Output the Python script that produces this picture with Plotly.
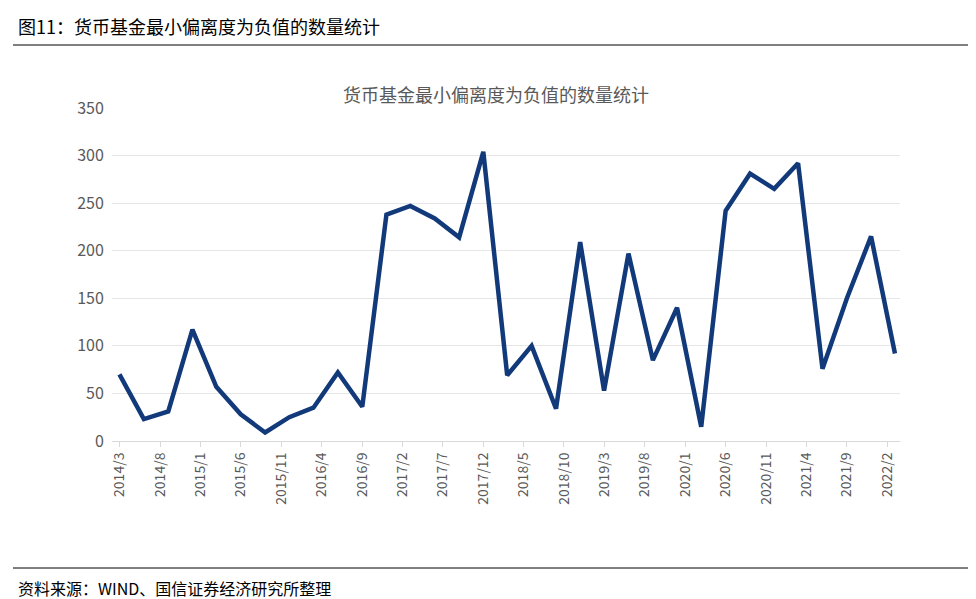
import plotly.graph_objects as go
import pandas as pd

dates = pd.date_range("2014-03-01", "2022-03-01", freq="3MS")
values = [70, 23, 31, 117, 57, 28, 9, 25, 35, 72, 36, 238, 247, 234, 214, 304,
          69, 100, 34, 209, 53, 197, 85, 140, 15, 242, 281, 265, 292, 76, 150, 215, 92]
tick_dates = pd.date_range("2014-03-01", "2022-02-01", freq="5MS")
tick_labels = [f"{d.year}/{d.month}" for d in tick_dates]

font = "Noto Sans CJK SC"
fig = go.Figure(go.Scatter(x=dates, y=values, mode="lines",
                           line=dict(color="#123A7A", width=4.5)))
fig.update_layout(
    width=976, height=599, paper_bgcolor="white", plot_bgcolor="white",
    margin=dict(l=104, r=84, t=100, b=166), showlegend=False,
    font=dict(family=font, color="#595959", size=15),
    title=dict(text="货币基金最小偏离度为负值的数量统计", x=0.5, xanchor="center",
               y=1 - 88/599, yanchor="middle", font=dict(size=18, color="#595959")),
    xaxis=dict(range=["2014-02-01", "2022-03-20"], tickvals=tick_dates, ticktext=tick_labels,
               tickangle=-90, showgrid=False, showline=True, linecolor="#D9D9D9",
               ticks="outside", tickcolor="#D9D9D9", ticklen=5, tickfont=dict(size=14)),
    yaxis=dict(range=[0, 350], dtick=50, gridcolor="#E6E6E6", zeroline=False,
               tickfont=dict(size=16), ticksuffix="  "),
)
fig.add_annotation(text="图11：货币基金最小偏离度为负值的数量统计", xref="paper", yref="paper",
                   x=-96/788, y=415/333, xanchor="left", yanchor="middle", showarrow=False,
                   font=dict(size=18, color="black", family=font))
fig.add_annotation(text="资料来源：WIND、国信证券经济研究所整理", xref="paper", yref="paper",
                   x=-96/788, y=-147/333, xanchor="left", yanchor="middle", showarrow=False,
                   font=dict(size=16, color="black", family=font))
for yy in [396/333, -127/333]:
    fig.add_shape(type="line", xref="paper", yref="paper", x0=-99/788, x1=866/788,
                  y0=yy, y1=yy, line=dict(color="black", width=1))
fig.write_html("out.html")
